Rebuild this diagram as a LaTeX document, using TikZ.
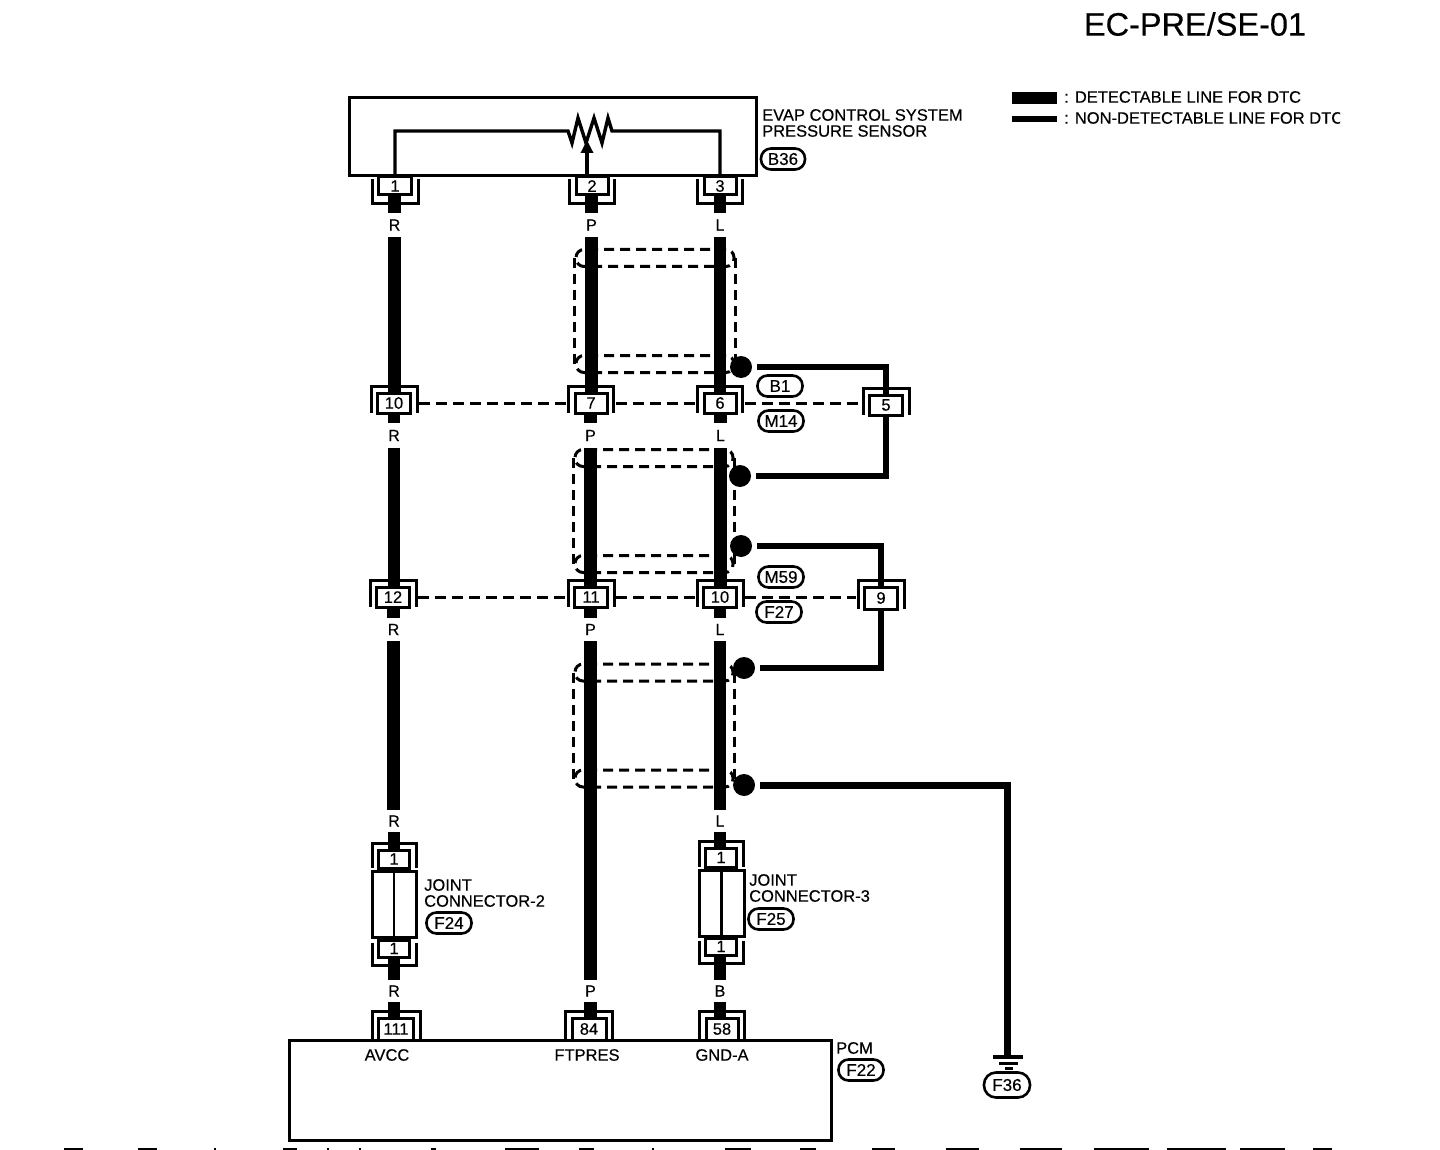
\documentclass[tikz,border=0pt]{standalone}
\usepackage{fontspec}
\setmainfont{Liberation Sans}[FakeBold=0.35]
\usetikzlibrary{backgrounds,arrows.meta}
\newcommand{\pinf}{\fontsize{16.5}{16}\selectfont}
\newcommand{\tagf}{\fontsize{17}{17}\selectfont}
\newcommand{\labf}{\fontsize{16.5}{16}\selectfont}
\newcommand{\wirf}{\fontsize{16}{16}\selectfont}
\tikzset{
  pinbox/.style={draw,fill=white,line width=3pt,inner sep=0pt,font=\pinf,minimum height=20pt},
  brk/.style={draw,line width=3pt,line cap=butt,line join=miter},
  wlab/.style={inner sep=0pt,font=\wirf,minimum width=14pt},
  hwire/.style={line width=12.5pt,line cap=butt},
  drain/.style={line width=6pt,line join=miter,shorten <=5pt},
  tag/.style={draw,line width=2.6pt,rounded corners=10pt,inner sep=0pt,minimum width=45pt,minimum height=21pt,font=\tagf},
  ring/.style={draw,line width=3pt,dash pattern=on 10pt off 6pt,rounded corners=8pt,inner sep=0pt,minimum height=17pt},
  shieldside/.style={line width=3pt,dash pattern=on 10pt off 6pt},
  harness/.style={line width=3pt,dash pattern=on 11pt off 6pt,shorten <=7pt,shorten >=7pt},
  splice/.style={circle,fill=black,inner sep=0pt,minimum size=22pt},
  txt/.style={inner sep=0pt,font=\labf,align=left,anchor=west},
  frame/.style={draw,line width=3pt,inner sep=0pt},
}
% name, x, y, text, width, height : bracket above (open downwards)
\newcommand{\conN}[6]{%
  \node[pinbox,minimum width=#5pt,minimum height=#6pt] (#1) at (#2,#3) {#4};
  \draw[brk] ([shift={(-5,-2)}]#1.south west) -- ([shift={(-5,-5)}]#1.north west) -- ([shift={(5,-5)}]#1.north east) -- ([shift={(5,-2)}]#1.south east);}
% bracket below (open upwards)
\newcommand{\conU}[6]{%
  \node[pinbox,minimum width=#5pt,minimum height=#6pt] (#1) at (#2,#3) {#4};
  \draw[brk] ([shift={(-5,4)}]#1.north west) -- ([shift={(-5,7)}]#1.south west) -- ([shift={(5,7)}]#1.south east) -- ([shift={(5,4)}]#1.north east);}
\begin{document}
\begin{tikzpicture}[x=1pt,y=-1pt]
\useasboundingbox (0,0) rectangle (1440,1150);
% title and legend
\node[inner sep=0pt,font=\fontsize{32.5}{32}\selectfont,anchor=center] (title) at (1195,24) {EC-PRE/SE-01};
\node[fill=black,inner sep=0pt,minimum width=45pt,minimum height=12pt] (leg1) at (1034.5,98) {};
\node[fill=black,inner sep=0pt,minimum width=45pt,minimum height=6pt] (leg2) at (1034.5,119.5) {};
\node[txt] (legt1) at (1064,97) {: DETECTABLE LINE FOR DTC};
\begin{scope}
\clip (1060,105) rectangle (1340,130);
\node[txt] (legt2) at (1064,118) {: NON-DETECTABLE LINE FOR DTC};
\end{scope}
% sensor
\node[frame,minimum width=407pt,minimum height=78pt] (sensor) at (553,137) {};
\node[txt] (sensort) at (762,123) {EVAP CONTROL SYSTEM\\PRESSURE SENSOR};
\node[tag,minimum width=44pt] (tB36) at (783,159) {B36};
\conU{a1}{395}{186}{1}{33}{18}
\conU{a2}{592}{186}{2}{32}{18}
\conU{a3}{720}{186}{3}{32}{18}
\coordinate (zigL) at (568,131);
\coordinate (zigR) at (612,131);
\draw[line width=3.4pt,line join=miter] (a1.north) -- (a1.north |- zigL) -- (zigL) -- (572,143) -- (578,118) -- (586,143) -- (594,118) -- (602,143) -- (608,118) -- (zigR) -- (a3.north |- zigR) -- (a3.north);
\draw[line width=3.4pt,-{Triangle[length=13pt,width=12pt]}] (a2.north -| 587,0) -- (587,140);
% row 2
\conN{b1}{394}{403}{10}{33}{20}
\conN{b2}{591}{403}{7}{32}{20}
\conN{b3}{720}{403}{6}{32}{20}
\conN{b4}{886}{405}{5}{33}{20}
\node[tag] (tB1) at (780,386) {B1};
\node[tag] (tM14) at (781,421) {M14};
% row 3
\conN{c1}{393}{597}{12}{33}{20}
\conN{c2}{591}{597}{11}{33}{20}
\conN{c3}{720}{597}{10}{33}{20}
\conN{c4}{881}{598}{9}{33}{22}
\node[tag] (tM59) at (781,577) {M59};
\node[tag] (tF27) at (779,612) {F27};
% joint connectors
\conN{j2a}{394}{859}{1}{31}{18}
\node[draw,fill=white,line width=3pt,inner sep=0pt,minimum width=44pt,minimum height=66pt] (j2) at (394,904) {};
\draw[line width=2.6pt] (j2.north) -- (j2.south);
\conU{j2b}{394}{948.5}{1}{31}{17}
\conN{j3a}{721}{857.5}{1}{31}{19}
\node[draw,fill=white,line width=3pt,inner sep=0pt,minimum width=45pt,minimum height=66pt] (j3) at (721.5,903) {};
\draw[line width=2.6pt] (j3.north) -- (j3.south);
\conU{j3b}{721}{946.5}{1}{31}{17}
\node[txt] (j2t) at (424,893) {JOINT\\CONNECTOR-2};
\node[tag] (tF24) at (449,923) {F24};
\node[txt] (j3t) at (749,888) {JOINT\\CONNECTOR-3};
\node[tag] (tF25) at (771,919) {F25};
% PCM
\conN{p1}{396}{1029}{111}{35}{22}
\conN{p2}{589}{1029}{84}{34}{22}
\conN{p3}{722}{1029}{58}{32}{22}
\node[frame,fill=none,minimum width=542pt,minimum height=100pt] (pcm) at (560,1090) {};
\node[inner sep=0pt,font=\labf] (pcmA) at (387,1055) {AVCC};
\node[inner sep=0pt,font=\labf] (pcmF) at (587,1055) {FTPRES};
\node[inner sep=0pt,font=\labf] (pcmG) at (722,1055) {GND-A};
\node[txt] (pcmt) at (836,1048) {PCM};
\node[tag] (tF22) at (861,1070) {F22};
% wire colour labels
\node[wlab,minimum height=24pt] (r1) at (394.5,225) {R};
\node[wlab,minimum height=24pt] (q1) at (591.5,225) {P};
\node[wlab,minimum height=24pt] (s1) at (720,225) {L};
\node[wlab,minimum height=25pt] (r2) at (394,435.5) {R};
\node[wlab,minimum height=25pt] (q2) at (590.5,435.5) {P};
\node[wlab,minimum height=25pt] (s2) at (720.5,435.5) {L};
\node[wlab,minimum height=23pt] (r3) at (393.5,629.5) {R};
\node[wlab,minimum height=23pt] (q3) at (590.5,629.5) {P};
\node[wlab,minimum height=23pt] (s3) at (720,629.5) {L};
\node[wlab,minimum height=22pt] (r4) at (394,821) {R};
\node[wlab,minimum height=22pt] (s4) at (720,821) {L};
\node[wlab,minimum height=22pt] (r5) at (394,991) {R};
\node[wlab,minimum height=22pt] (q5) at (590.5,991) {P};
\node[wlab,minimum height=22pt] (s5) at (720,991) {B};
% splices
\node[splice] (d1) at (741,367) {};
\node[splice] (d2) at (740,476) {};
\node[splice] (d3) at (741,546) {};
\node[splice] (d4) at (744,668) {};
\node[splice] (d5) at (744,785) {};
% ground
\coordinate (gnd) at (1007,1057);
\node[tag,minimum width=46pt,minimum height=25pt,rounded corners=12pt] (tF36) at (1007,1085) {F36};
\draw[line width=4pt] ([xshift=-14]gnd) -- ([xshift=16]gnd);
\draw[line width=3pt] ([shift={(-8,6)}]gnd) -- ([shift={(11,6)}]gnd);
\draw[line width=3pt] ([shift={(-2,11)}]gnd) -- ([shift={(6,11)}]gnd);
% shield rings
\node[ring,minimum width=158pt] (e1a) at (655,258) {};
\node[ring,minimum width=158pt] (e1b) at (655,364) {};
\node[ring,minimum width=158pt] (e2a) at (654,458) {};
\node[ring,minimum width=158pt] (e2b) at (654,564) {};
\node[ring,minimum width=158pt] (e3a) at (654,672.5) {};
\node[ring,minimum width=158pt] (e3b) at (654,778.5) {};
% everything below lies under the boxes
\begin{scope}[on background layer]
\fill[white] (0,0) rectangle (1440,1150);
\draw[shieldside] (e1a.west) -- (e1b.west);
\draw[shieldside] (e1a.east) -- (e1b.east);
\draw[shieldside] (e2a.west) -- (e2b.west);
\draw[shieldside] (e2a.east) -- (e2b.east);
\draw[shieldside] (e3a.west) -- (e3b.west);
\draw[shieldside] (e3a.east) -- (e3b.east);
% harness connectors
\draw[harness] (b1.east) -- (b2.west);
\draw[harness] (b2.east) -- (b3.west);
\draw[harness] (b3.east) -- (b3.east -| b4.west);
\draw[harness] (c1.east) -- (c2.west);
\draw[harness] (c2.east) -- (c3.west);
\draw[harness] (c3.east) -- (c3.east -| c4.west);
% column R
\draw[hwire] (r1.north) -- (r1.north |- a1.south);
\draw[hwire] (r1.south) -- (r1.south |- b1.north);
\draw[hwire] (r2.north) -- (r2.north |- b1.south);
\draw[hwire] (r2.south) -- (r2.south |- c1.north);
\draw[hwire] (r3.north) -- (r3.north |- c1.south);
\draw[hwire] (r3.south) -- (r3.south |- r4.north);
\draw[hwire] (r4.south) -- (r4.south |- j2a.north);
\draw[hwire] (r5.north) -- (r5.north |- j2b.south);
\draw[hwire] (r5.south) -- (r5.south |- p1.north);
% column P
\draw[hwire] (q1.north) -- (q1.north |- a2.south);
\draw[hwire] (q1.south) -- (q1.south |- b2.north);
\draw[hwire] (q2.north) -- (q2.north |- b2.south);
\draw[hwire] (q2.south) -- (q2.south |- c2.north);
\draw[hwire] (q3.north) -- (q3.north |- c2.south);
\draw[hwire] (q3.south) -- (q3.south |- q5.north);
\draw[hwire] (q5.south) -- (q5.south |- p2.north);
% column L
\draw[hwire] (s1.north) -- (s1.north |- a3.south);
\draw[hwire] (s1.south) -- (s1.south |- b3.north);
\draw[hwire] (s2.north) -- (s2.north |- b3.south);
\draw[hwire] (s2.south) -- (s2.south |- c3.north);
\draw[hwire] (s3.north) -- (s3.north |- c3.south);
\draw[hwire] (s3.south) -- (s3.south |- s4.north);
\draw[hwire] (s4.south) -- (s4.south |- j3a.north);
\draw[hwire] (s5.north) -- (s5.north |- j3b.south);
\draw[hwire] (s5.south) -- (s5.south |- p3.north);
% drain wires
\draw[drain] (d1.east) -| (b4.north);
\draw[drain] (d2.east) -| (b4.south);
\draw[drain] (d3.east) -| (c4.north);
\draw[drain] (d4.east) -| (c4.south);
\draw[drain,line width=7pt] (d5.east) -| (gnd);
\end{scope}
% scan residue along the bottom edge
\foreach \a/\b in {64/83,138/157,214/216,283/297,327/329,359/361,431/436,505/539,579/594,652/654,725/751,800/816,872/895,946/979,1020/1062,1094/1149,1167/1226,1240/1285,1313/1332}
  \fill[black] (\a,1148) rectangle (\b,1150);
\end{tikzpicture}
\end{document}
